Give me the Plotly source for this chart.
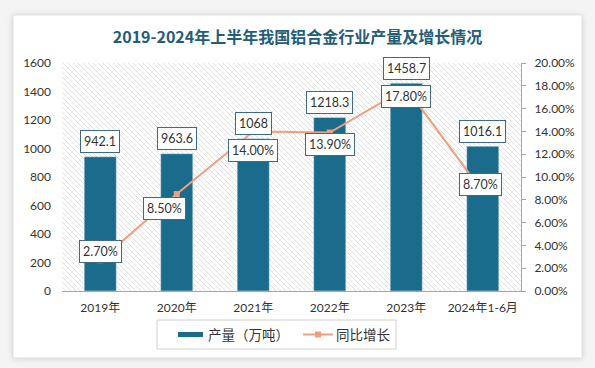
import base64
import plotly.graph_objects as go

# ---------------- data ----------------
categories = ["2019年", "2020年", "2021年", "2022年", "2023年", "2024年1-6月"]
output_wt = [942.1, 963.6, 1068, 1218.3, 1458.7, 1016.1]        # 产量（万吨）
growth_pct = [0.027, 0.085, 0.14, 0.139, 0.178, 0.087]          # 同比增长
bar_labels = ["942.1", "963.6", "1068", "1218.3", "1458.7", "1016.1"]
growth_labels = ["2.70%", "8.50%", "14.00%", "13.90%", "17.80%", "8.70%"]
title_text = "2019-2024年上半年我国铝合金行业产量及增长情况"
legend_names = ["产量（万吨）", "同比增长"]

# ---------------- style ----------------
W, H = 595, 368
ML, MR, MT, MB = 62, 74, 63, 77
PW, PH = W - ML - MR, H - MT - MB
BAR = "#1b6b8d"
LINE = "#ee9f7f"
BOX = "#3f6a85"
FONT = "Lato, 'Noto Sans CJK SC', sans-serif"
TXT = "#333333"

def px2x(px):
    return (px - ML) / PW

def px2y(py):
    return (H - MB - py) / PH

# background svg: page, card with shadow, hatched plot area
svg = f'''<svg xmlns="http://www.w3.org/2000/svg" width="{W}" height="{H}" viewBox="0 0 {W} {H}">
<defs>
<filter id="s" x="-10%" y="-10%" width="120%" height="120%"><feGaussianBlur stdDeviation="3"/></filter>
<pattern id="h" patternUnits="userSpaceOnUse" width="5" height="5">
<path d="M-1,-1 L6,6 M-1,4 L1,6 M4,-1 L6,1" stroke="#e0e0e0" stroke-width="1"/>
</pattern>
</defs>
<rect x="0" y="0" width="{W}" height="{H}" fill="#f4f4f4"/>
<rect x="13" y="16" width="569" height="342" fill="#c8c8c8" filter="url(#s)"/>
<rect x="13" y="15" width="569" height="343" fill="#ffffff" stroke="#e2e2e2"/>
<rect x="{ML}" y="{MT}" width="{PW}" height="{PH}" fill="url(#h)"/>
</svg>'''
src = "data:image/svg+xml;base64," + base64.b64encode(svg.encode()).decode()

fig = go.Figure()
fig.add_trace(go.Bar(
    x=categories, y=output_wt, name=legend_names[0], marker_color=BAR,
    width=0.42, yaxis="y", showlegend=False,
))
fig.add_trace(go.Scatter(
    x=categories, y=growth_pct, name=legend_names[1], mode="lines+markers",
    line=dict(color=LINE, width=2), marker=dict(symbol="square", size=6, color=LINE),
    yaxis="y2", showlegend=False,
))

annotations = []
for c, v, t in zip(categories, output_wt, bar_labels):
    annotations.append(dict(
        x=c, y=v, xref="x", yref="y", text=t, showarrow=False, yshift=15,
        font=dict(size=12.5, color=TXT, family=FONT),
        bgcolor="white", bordercolor=BOX, borderwidth=1, borderpad=3,
    ))
g_yshift = [9, -14, -19, -12, -8, 7]
g_xshift = [0, -12, 0, 0, 0, -2]
for c, v, t, ys, xs in zip(categories, growth_pct, growth_labels, g_yshift, g_xshift):
    annotations.append(dict(
        x=c, y=v, xref="x", yref="y2", text=t, showarrow=False, yshift=ys, xshift=xs,
        font=dict(size=12.5, color=TXT, family=FONT),
        bgcolor="white", bordercolor=BOX, borderwidth=1, borderpad=3,
    ))

# manual legend
shapes = [
    dict(type="rect", xref="paper", yref="paper", x0=px2x(157), x1=px2x(396),
         y0=px2y(320), y1=px2y(349), line=dict(color="#d0d0d0", width=1), fillcolor="white"),
    dict(type="rect", xref="paper", yref="paper", x0=px2x(178), x1=px2x(203),
         y0=px2y(332), y1=px2y(337), line=dict(width=0), fillcolor=BAR),
    dict(type="line", xref="paper", yref="paper", x0=px2x(303), x1=px2x(333),
         y0=px2y(334.5), y1=px2y(334.5), line=dict(color=LINE, width=2)),
    dict(type="rect", xref="paper", yref="paper", x0=px2x(315), x1=px2x(321),
         y0=px2y(331.5), y1=px2y(337.5), line=dict(width=0), fillcolor=LINE),
]
annotations.append(dict(xref="paper", yref="paper", x=px2x(206), y=px2y(334.5),
                        xanchor="left", yanchor="middle", text=legend_names[0], showarrow=False,
                        font=dict(size=13.5, color=TXT, family=FONT)))
annotations.append(dict(xref="paper", yref="paper", x=px2x(334), y=px2y(334.5),
                        xanchor="left", yanchor="middle", text=legend_names[1], showarrow=False,
                        font=dict(size=13.5, color=TXT, family=FONT)))

fig.update_layout(
    width=W, height=H,
    margin=dict(l=ML, r=MR, t=MT, b=MB, pad=0),
    paper_bgcolor="#f4f4f4", plot_bgcolor="rgba(0,0,0,0)",
    title=dict(text=f"<b>{title_text}</b>", x=0.5, xanchor="center", y=1 - 37 / H, yanchor="middle",
               font=dict(size=16, color="#245d78", family="'Noto Sans CJK SC', serif")),
    images=[dict(source=src, xref="paper", yref="paper", x=px2x(0), y=px2y(0),
                 sizex=W / PW, sizey=H / PH, xanchor="left", yanchor="top",
                 sizing="stretch", layer="below")],
    xaxis=dict(type="category", showgrid=False, showline=True, linecolor="#a6a6a6", linewidth=1,
               ticks="", tickfont=dict(size=12, color=TXT, family=FONT), ticklabelstandoff=6,
               fixedrange=True),
    yaxis=dict(range=[0, 1600], dtick=200, showgrid=False, zeroline=False, showline=False,
               tickfont=dict(size=12, color=TXT, family=FONT), ticklabelstandoff=10),
    yaxis2=dict(range=[0, 0.2], dtick=0.02, tickformat=".2%", overlaying="y", side="right",
                showgrid=False, zeroline=False, showline=True, linecolor="#a6a6a6", linewidth=1,
                ticks="outside", ticklen=4, tickcolor="#a6a6a6", ticklabelstandoff=6,
                tickfont=dict(size=12, color=TXT, family=FONT)),
    bargap=0.58,
    showlegend=False,
    shapes=shapes,
    annotations=annotations,
)

fig.write_html("out.html", config={"displayModeBar": False},
               post_script="document.body.style.margin='0';document.body.style.overflow='hidden';")
